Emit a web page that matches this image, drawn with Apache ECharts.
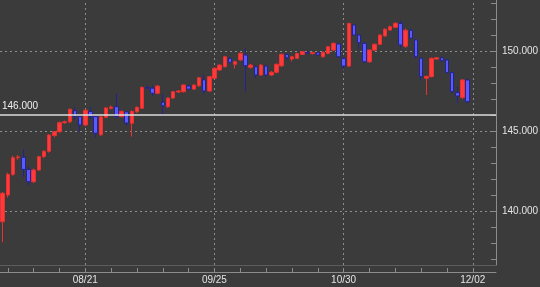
<!DOCTYPE html>
<html>
<head>
<meta charset="utf-8">
<script src="https://cdn.jsdelivr.net/npm/echarts@6/dist/echarts.min.js"></script>
<style>
html,body{margin:0;padding:0;background:#3b3b3b;}
#chart{width:540px;height:287px;}
</style>
</head>
<body>
<div id="chart"></div>
<script>
const dates = ['07/28','07/31','08/01','08/02','08/03','08/04','08/07','08/08','08/09','08/10','08/11','08/14','08/15','08/16','08/17','08/18','08/21','08/22','08/23','08/24','08/25','08/28','08/29','08/30','08/31','09/01','09/04','09/05','09/06','09/07','09/08','09/11','09/12','09/13','09/14','09/15','09/18','09/19','09/20','09/21','09/22','09/25','09/26','09/27','09/28','09/29','10/02','10/03','10/04','10/05','10/06','10/09','10/10','10/11','10/12','10/13','10/16','10/17','10/18','10/19','10/20','10/23','10/24','10/25','10/26','10/27','10/30','10/31','11/01','11/02','11/03','11/06','11/07','11/08','11/09','11/10','11/13','11/14','11/15','11/16','11/17','11/20','11/21','11/22','11/23','11/24','11/27','11/28','11/29','11/30','12/01','12/02','12/04','12/05','12/06','12/07'];
const opens = [139.33,141.0,142.29,143.33,143.36,142.6,141.83,142.56,143.4,143.73,144.72,144.96,145.52,145.58,146.27,145.9,145.38,146.22,145.9,144.76,145.86,146.42,146.52,145.9,146.2,145.48,146.2,146.42,147.72,147.68,147.36,146.8,146.52,147.06,147.44,147.46,147.81,147.62,147.83,148.2,147.5,148.3,148.82,149.02,149.54,149.17,149.44,149.75,148.98,149.02,148.5,149.06,148.5,148.67,149.08,149.79,149.5,149.54,149.79,149.92,149.84,149.9,149.64,149.85,150.06,150.44,149.54,149.06,151.63,151.0,150.48,149.33,150.06,150.42,150.94,151.31,151.48,151.73,150.3,151.3,150.7,149.55,148.3,148.4,149.5,149.58,149.44,148.65,147.4,147.1,148.19];
const closes = [141.11,142.29,143.33,143.38,142.6,141.83,142.56,143.4,143.73,144.75,144.96,145.52,145.58,146.36,145.9,145.38,146.3,145.9,144.86,145.88,146.44,146.5,145.9,146.22,145.5,146.22,146.48,147.72,147.68,147.36,147.81,146.58,147.06,147.46,147.5,147.88,147.62,147.87,148.33,147.5,148.4,148.92,149.12,149.64,149.29,149.33,149.86,149.08,149.12,148.5,149.12,148.5,148.67,149.17,149.79,149.58,149.64,149.85,149.96,149.88,149.9,149.75,149.92,150.27,150.48,149.64,149.06,151.73,151.0,150.52,149.33,150.06,150.42,151.0,151.36,151.52,151.73,150.38,151.3,150.8,149.65,148.4,148.42,149.54,149.58,149.4,148.65,147.46,147.19,148.19,146.83];
const lows = [138.05,140.85,142.2,143.2,142.14,141.6,141.75,142.5,143.3,143.65,144.6,144.9,145.45,145.5,145.7,144.96,145.3,145.75,144.6,144.7,145.8,146.35,145.8,145.85,145.33,144.65,146.15,146.38,147.6,147.2,147.3,146.0,146.45,147.0,147.38,147.4,147.55,147.58,147.75,147.3,147.45,148.25,148.75,148.98,149.2,148.9,149.38,147.46,148.9,148.3,148.45,148.4,148.45,148.6,149.0,149.45,149.35,149.5,149.75,149.8,149.78,149.7,149.6,149.8,150.0,149.6,148.85,149.0,150.95,150.1,149.23,149.25,150.0,150.38,150.9,151.28,151.45,150.15,150.2,150.75,149.55,148.15,147.25,148.35,149.45,149.35,148.6,147.4,146.75,147.0,146.73];
const highs = [141.2,142.4,143.45,143.5,143.86,142.8,142.65,143.45,143.8,144.8,145.0,145.6,145.65,146.4,146.5,145.95,146.35,146.5,145.95,145.95,146.5,146.6,147.35,146.3,146.25,146.3,146.55,147.8,147.85,147.85,147.88,147.3,147.1,147.5,147.55,147.92,147.88,147.92,148.38,148.5,148.45,148.97,149.18,149.7,149.6,149.4,149.9,150.17,149.2,149.1,149.2,149.12,148.75,149.22,149.85,149.85,149.7,149.9,150.0,149.98,149.96,149.95,149.97,150.32,150.55,150.5,149.6,151.75,151.72,151.05,150.55,150.1,150.48,151.05,151.42,151.58,151.8,151.9,151.4,151.38,150.75,149.6,148.45,149.6,149.62,149.65,149.5,148.7,147.77,148.25,148.3];
const refLevel = 146.0;
const gridDates = ['08/21','09/25','10/30','12/02'];
const yMin = 136.625, yMax = 153.19;

const candles = opens.map((o, i) => [o, closes[i], lows[i], highs[i]]);
const axisColor = '#8c8c8c';
const textColor = '#e4e4e4';
const font = 'Liberation Sans, Arial, sans-serif';

const chart = echarts.init(document.getElementById('chart'), null, {renderer: 'canvas'});
chart.setOption({
  backgroundColor: '#3b3b3b',
  animation: false,
  grid: {left: 0, top: 0, width: 496, height: 265, containLabel: false, outerBoundsMode: 'none'},
  xAxis: [{
    type: 'category', data: dates, boundaryGap: true, position: 'bottom', offset: 7,
    axisLine: {show: true, lineStyle: {color: axisColor}},
    axisTick: {show: true, inside: true, length: 4, alignWithLabel: true, interval: (i) => i % 5 === 1, lineStyle: {color: axisColor}},
    axisLabel: {interval: (i) => i % 25 === 16, color: textColor, fontSize: 10, fontFamily: font, margin: 3},
    splitLine: {show: false}
  }, {
    type: 'category', data: dates, boundaryGap: true, position: 'bottom', offset: 0,
    axisLine: {show: true, lineStyle: {color: '#5c5c5c'}},
    axisTick: {show: false}, axisLabel: {show: false}, splitLine: {show: false}
  }],
  yAxis: [{
    type: 'value', position: 'right', min: yMin, max: yMax, splitNumber: 17, minInterval: 1, maxInterval: 1,
    axisLine: {show: true, lineStyle: {color: axisColor}},
    axisTick: {show: true, inside: true, length: 5, lineStyle: {color: axisColor}},
    axisLabel: {color: textColor, fontSize: 10, fontFamily: font, margin: 6, showMinLabel: false, showMaxLabel: false,
      formatter: (v) => (Math.abs(v / 5 - Math.round(v / 5)) < 1e-6 ? v.toFixed(3) : '')},
    splitLine: {show: false}
  }, {
    type: 'value', position: 'right', min: yMin, max: yMax, splitNumber: 3, minInterval: 5, maxInterval: 5,
    axisLine: {show: false}, axisTick: {show: false}, axisLabel: {show: false},
    splitLine: {show: true, showMinLine: false, showMaxLine: false, lineStyle: {color: '#8e8e8e', type: [2, 3], width: 1}}
  }],
  series: [{
    type: 'line', xAxisIndex: 0, yAxisIndex: 0, data: [], silent: true,
    markLine: {
      silent: true, symbol: 'none', z: 1, animation: false,
      label: {show: false},
      lineStyle: {color: '#8e8e8e', type: [2, 3], width: 1},
      data: gridDates.map(d => ({xAxis: d}))
    }
  }, {
    type: 'candlestick', xAxisIndex: 0, yAxisIndex: 0, data: candles, barWidth: 4, z: 3,
    itemStyle: {color: '#ff3a3a', color0: '#5a5aff', borderColor: '#e83030', borderColor0: '#23238f', borderWidth: 1},
    markLine: {
      silent: true, symbol: 'none', animation: false, z: 6,
      lineStyle: {color: '#dcdcdc', type: 'solid', width: 1.5},
      label: {show: true, position: 'insideStartTop', formatter: refLevel.toFixed(3), color: '#f0f0f0', fontSize: 10, fontFamily: font, distance: [2, 4]},
      data: [{yAxis: refLevel}]
    }
  }]
});
</script>
</body>
</html>
